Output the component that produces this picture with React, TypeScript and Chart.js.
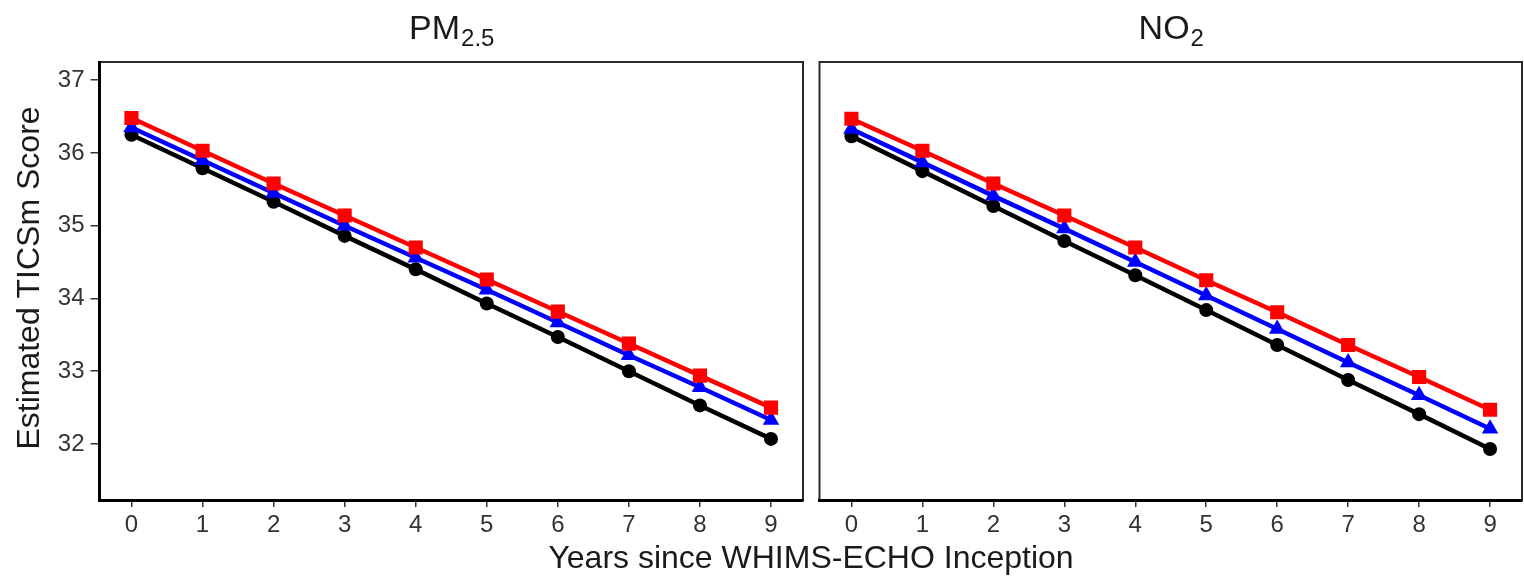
import React, { useEffect, useRef } from "react";
import { Chart, registerables } from "chart.js";

Chart.register(...registerables);

const YEARS = [0, 1, 2, 3, 4, 5, 6, 7, 8, 9];
const Y_TICKS = [32, 33, 34, 35, 36, 37];

const PM25_RED = [36.48, 36.03, 35.58, 35.14, 34.7, 34.26, 33.82, 33.38, 32.94, 32.5];
const PM25_BLUE = [36.35, 35.9, 35.45, 35.0, 34.56, 34.12, 33.67, 33.22, 32.78, 32.33];
const PM25_BLACK = [36.25, 35.79, 35.33, 34.86, 34.4, 33.93, 33.47, 33.0, 32.53, 32.07];

const NO2_RED = [36.47, 36.03, 35.58, 35.14, 34.7, 34.25, 33.81, 33.36, 32.92, 32.47];
const NO2_BLUE = [36.33, 35.87, 35.41, 34.96, 34.5, 34.04, 33.58, 33.12, 32.67, 32.21];
const NO2_BLACK = [36.23, 35.75, 35.27, 34.79, 34.32, 33.84, 33.36, 32.88, 32.41, 31.93];

const FONT = '"Liberation Sans", Arial, Helvetica, sans-serif';
const W = 1524;
const H = 581;
const SPLIT = 811;

type PanelProps = {
  main: string;
  sub: string;
  red: number[];
  blue: number[];
  black: number[];
  x0: number;
  cw: number;
  left: number;
  right: number;
  first: boolean;
};

function mkData(vals: number[]) {
  return YEARS.map((x, i) => ({ x, y: vals[i] }));
}

function Panel(p: PanelProps) {
  const ref = useRef<HTMLCanvasElement | null>(null);
  useEffect(() => {
    if (!ref.current) return;
    const top = 62;
    const bottom = 500;
    const decor = {
      id: "decor",
      beforeDraw(chart: any) {
        const { ctx, chartArea: a } = chart;
        ctx.save();
        ctx.strokeStyle = "#2a2a2a";
        ctx.lineWidth = 2;
        ctx.strokeRect(a.left, a.top, a.right - a.left, a.bottom - a.top);
        ctx.restore();
      },
      afterDraw(chart: any) {
        const { ctx, chartArea: a } = chart;
        ctx.save();
        ctx.fillStyle = "#1a1a1a";
        ctx.textBaseline = "alphabetic";
        ctx.textAlign = "left";
        const mainFont = `34px ${FONT}`;
        const subFont = `24px ${FONT}`;
        ctx.font = mainFont;
        const mw = ctx.measureText(p.main).width;
        ctx.font = subFont;
        const sw = ctx.measureText(p.sub).width;
        const cx = (a.left + a.right) / 2;
        const tx = cx - (mw + sw) / 2;
        ctx.font = mainFont;
        ctx.fillText(p.main, tx, 39);
        ctx.font = subFont;
        ctx.fillText(p.sub, tx + mw + 1, 46);
        if (p.first) {
          ctx.font = `32px ${FONT}`;
          ctx.save();
          ctx.translate(39, 278);
          ctx.rotate(-Math.PI / 2);
          ctx.textAlign = "center";
          ctx.fillText("Estimated TICSm Score", 0, 0);
          ctx.restore();
        }
        ctx.restore();
      },
    };

    const chart = new Chart(ref.current, {
      type: "line",
      data: {
        datasets: [
          {
            label: "red",
            data: mkData(p.red),
            borderColor: "#ff0000",
            backgroundColor: "#ff0000",
            borderWidth: 4.5,
            pointStyle: "rect",
            pointRadius: 10,
            pointBorderWidth: 0,
            tension: 0,
          },
          {
            label: "blue",
            data: mkData(p.blue),
            borderColor: "#0000ff",
            backgroundColor: "#0000ff",
            borderWidth: 4.5,
            pointStyle: "triangle",
            pointRadius: 9.5,
            pointBorderWidth: 0,
            tension: 0,
          },
          {
            label: "black",
            data: mkData(p.black),
            borderColor: "#000000",
            backgroundColor: "#000000",
            borderWidth: 4.5,
            pointStyle: "circle",
            pointRadius: 7,
            pointBorderWidth: 0,
            tension: 0,
          },
        ],
      },
      options: {
        responsive: false,
        animation: false,
        events: [],
        layout: {
          autoPadding: false,
          padding: {
            left: 0,
            right: p.x0 + p.cw - p.right,
            top: top,
            bottom: 0,
          },
        },
        plugins: {
          legend: { display: false },
          tooltip: { enabled: false },
          title: { display: false },
        },
        scales: {
          x: {
            type: "linear",
            min: -0.45,
            max: 9.45,
            afterFit: (s: any) => {
              s.height = H - bottom;
            },
            afterBuildTicks: (s: any) => {
              s.ticks = YEARS.map((v) => ({ value: v }));
            },
            grid: {
              display: true,
              drawOnChartArea: false,
              drawTicks: true,
              tickLength: 7,
              tickColor: "#333333",
              lineWidth: 1.5,
            },
            border: { display: true, color: "#000000", width: 3 },
            ticks: {
              color: "#333333",
              font: { family: FONT, size: 24 },
              padding: 4,
              maxRotation: 0,
              autoSkip: false,
            },
          },
          y: {
            type: "linear",
            min: 31.23,
            max: 37.25,
            display: true,
            afterFit: (s: any) => {
              s.width = p.left - p.x0;
            },
            afterBuildTicks: (s: any) => {
              s.ticks = Y_TICKS.map((v) => ({ value: v }));
            },
            grid: {
              display: p.first,
              drawOnChartArea: false,
              drawTicks: true,
              tickLength: 9,
              tickColor: "#333333",
              lineWidth: 1.5,
            },
            border: { display: p.first, color: "#000000", width: 3 },
            ticks: {
              display: p.first,
              color: "#333333",
              font: { family: FONT, size: 24 },
              padding: 6,
              autoSkip: false,
            },
          },
        },
      },
      plugins: [decor],
    } as any);
    return () => chart.destroy();
  }, []);
  return (
    <canvas
      ref={ref}
      width={p.cw}
      height={H}
      style={{ position: "absolute", left: p.x0, top: 0, width: p.cw, height: H }}
    />
  );
}

export default function App() {
  return (
    <div
      style={{
        position: "absolute",
        left: 0,
        top: 0,
        width: W,
        height: H,
        background: "#ffffff",
        overflow: "hidden",
      }}
    >
      <Panel main="PM" sub="2.5" red={PM25_RED} blue={PM25_BLUE} black={PM25_BLACK}
        x0={0} cw={SPLIT} left={99.5} right={803} first={true} />
      <Panel main="NO" sub="2" red={NO2_RED} blue={NO2_BLUE} black={NO2_BLACK}
        x0={SPLIT} cw={W - SPLIT} left={819.5} right={1522} first={false} />
      <div
        style={{
          position: "absolute",
          left: 311,
          top: 541,
          width: 1000,
          textAlign: "center",
          fontFamily: FONT,
          fontSize: 32,
          lineHeight: "32px",
          color: "#1a1a1a",
          whiteSpace: "nowrap",
        }}
      >
        Years since WHIMS-ECHO Inception
      </div>
    </div>
  );
}
